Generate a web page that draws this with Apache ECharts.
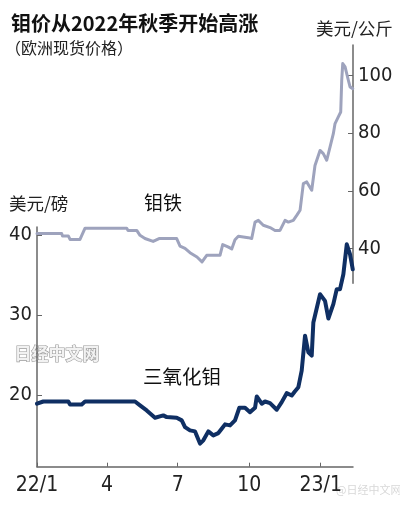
<!DOCTYPE html>
<html>
<head>
<meta charset="utf-8">
<script src="https://cdn.jsdelivr.net/npm/echarts@6/dist/echarts.min.js"></script>
<style>
html,body{margin:0;padding:0;background:#fff;}
#c{width:400px;height:506px;}
</style>
</head>
<body>
<div id="c"></div>
<script>
// x positions: days since 2022-01-01
var xTickDays = [0, 90, 181, 273, 365];
var xTickLabels = ['22/1', '4', '7', '10', '23/1'];
var leftTicks = [20, 30, 40];
var rightTicks = [40, 60, 80, 100];

// 钼铁 (ferro-molybdenum), USD/kg, right axis
var ferroDays = [0,31.8,32.8,40.3,42.5,55.3,61.8,115.4,117.1,128.3,132.5,138.9,149.4,157,179.7,184,190.4,196.8,205.8,212.3,218.3,235.4,238.9,245.7,250.5,254.7,259,271.8,276.2,280.5,284.7,291.1,299.8,306.2,312.6,319.1,323.3,329.7,334.1,338.4,342.6,347,353.4,357.6,364.1,368.3,372.7,377,381.2,383.4,387.6,390.7,392,393.3,396.3,400.5,402.7,406.2];
var ferroValues = [45.2,45.2,44.4,44.4,43.2,43.2,47.1,47.1,46.3,46.3,44.6,43.5,42.5,43.5,43.5,40.9,40.1,38.6,37.1,35.4,37.7,37.7,41.4,40.6,39.9,43.1,44.3,43.8,43.5,49.2,49.8,48.1,47.3,46.3,46.3,49.8,49.2,49.8,51.5,53.3,62.5,63.1,60.2,68.8,74.0,72.9,70.6,75.2,79.8,83.3,85.6,87.3,98.3,104.1,102.9,98.3,96.0,95.4];

// 三氧化钼 (molybdenum oxide), USD/lb, left axis
var oxideDays = [0,8.1,40.3,42.5,57.5,61.8,126.1,132.5,141.1,151.8,162.5,166.9,179.7,186.2,190.4,196.8,203.3,209.7,214,220.4,226.8,233.3,237.6,241.9,248.3,254.7,260.3,267.6,274,280.5,282.7,284.7,289.1,293.3,299.8,308.4,314.8,321.2,327.7,331.9,336.2,340.5,344.8,349.1,353.4,355.5,364.1,370.5,374.8,381.2,385.6,389.8,394.1,398.5,402.7,406.2];
var oxideValues = [18.88,19.16,19.16,18.79,18.79,19.16,19.16,18.67,18.04,17.13,17.42,17.21,17.13,16.80,15.96,15.55,15.42,13.89,14.30,15.42,14.92,15.21,15.76,16.30,16.17,16.80,18.38,18.38,17.83,18.38,19.79,19.79,18.88,19.16,18.95,18.13,19.08,20.20,19.91,20.45,20.95,23.03,27.39,25.31,24.90,29.05,32.59,31.76,29.55,31.35,33.22,33.22,35.09,38.83,37.58,35.71];

function zip(a, b) { return a.map(function (d, i) { return [d, b[i]]; }); }

var numFont = '"Liberation Sans Narrow", "DejaVu Sans Condensed", "Liberation Sans", sans-serif';
var cjkFont = '"Noto Sans CJK SC", sans-serif';
var axisColor = '#666';

var chart = echarts.init(document.getElementById('c'), null, {renderer: 'canvas'});
chart.setOption({
  backgroundColor: '#fff',
  animation: false,
  grid: [
    {left: 37, right: 47, top: 227, bottom: 39.3},
    {left: 37, right: 47, top: 45, bottom: 222.7}
  ],
  xAxis: [
    {
      type: 'value', gridIndex: 0, min: 0, max: 406.5,
      axisLine: {show: true, onZero: false, lineStyle: {color: axisColor, width: 1.5}},
      axisTick: {show: true, inside: true, length: 4, customValues: xTickDays, lineStyle: {color: axisColor}},
      axisLabel: {
        customValues: xTickDays, margin: 8, fontSize: 21, color: '#222', fontFamily: numFont,
        formatter: function (v) { return xTickLabels[xTickDays.indexOf(v)]; }
      },
      splitLine: {show: false}
    },
    {type: 'value', gridIndex: 1, min: 0, max: 406.5, show: false}
  ],
  yAxis: [
    {
      type: 'value', gridIndex: 0, min: 11, max: 41, position: 'left',
      axisLine: {show: true, onZero: false, lineStyle: {color: axisColor, width: 1.5}},
      axisTick: {show: true, inside: true, length: 5, customValues: leftTicks, lineStyle: {color: axisColor}},
      axisLabel: {customValues: leftTicks, margin: 5, fontSize: 20, color: '#222', fontFamily: numFont},
      splitLine: {show: false}
    },
    {
      type: 'value', gridIndex: 1, min: 28, max: 110.5, position: 'right',
      axisLine: {show: true, onZero: false, lineStyle: {color: axisColor, width: 1.5}},
      axisTick: {show: true, inside: true, length: 5, customValues: rightTicks, lineStyle: {color: axisColor}},
      axisLabel: {customValues: rightTicks, margin: 5, fontSize: 20, color: '#222', fontFamily: numFont},
      splitLine: {show: false}
    }
  ],
  series: [
    {
      name: '钼铁', type: 'line', xAxisIndex: 1, yAxisIndex: 1,
      data: zip(ferroDays, ferroValues), showSymbol: false, symbol: 'none',
      lineStyle: {color: '#9ea3bd', width: 3, join: 'round', cap: 'round'}
    },
    {
      name: '三氧化钼', type: 'line', xAxisIndex: 0, yAxisIndex: 0,
      data: zip(oxideDays, oxideValues), showSymbol: false, symbol: 'none',
      lineStyle: {color: '#0f2f63', width: 4, join: 'round', cap: 'round'}
    }
  ],
  graphic: [
    {type: 'text', left: 11, top: 13, style: {text: '钼价从2022年秋季开始高涨', font: 'bold 20px ' + cjkFont, fill: '#111'}},
    {type: 'text', left: 5, top: 40, style: {text: '（欧洲现货价格）', font: '16px ' + cjkFont, fill: '#222'}},
    {type: 'text', left: 316, top: 20, style: {text: '美元/公斤', font: '17.5px ' + cjkFont, fill: '#222'}},
    {type: 'text', left: 9, top: 195, style: {text: '美元/磅', font: '17.5px ' + cjkFont, fill: '#222'}},
    {type: 'text', left: 144, top: 193, style: {text: '钼铁', font: '19px ' + cjkFont, fill: '#111'}},
    {type: 'text', left: 143, top: 367, style: {text: '三氧化钼', font: '19.5px ' + cjkFont, fill: '#111'}},
    {type: 'text', left: 14, top: 344, style: {text: '日经中文网', font: 'bold 17px ' + cjkFont, fill: '#f2f2f2', stroke: '#9a9a9a', lineWidth: 1.2}},
    {type: 'text', left: 336, top: 484, style: {text: '@日经中文网', font: '11px ' + cjkFont, fill: '#d8d8d8'}}
  ]
});
</script>
</body>
</html>
